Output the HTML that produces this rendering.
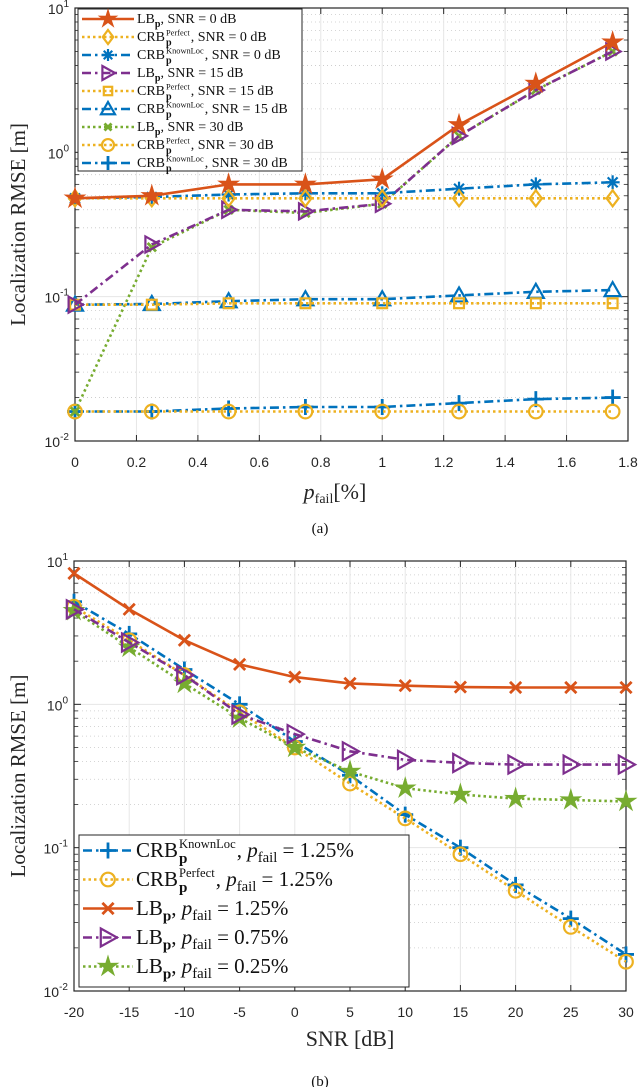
<!DOCTYPE html>
<html><head><meta charset="utf-8"><style>
body{margin:0;background:#fff;width:640px;height:1087px;overflow:hidden}
svg{display:block;font-family:"Liberation Sans",sans-serif}
text{white-space:pre}
.serif{font-family:"Liberation Serif",serif}
</style></head><body>
<svg id="s" width="640" height="1087"></svg>
<script>
// ---- Chart (a) data ----
const aX=[0,0.25,0.5,0.75,1,1.25,1.5,1.75];
const aLB0=[0.48,0.5,0.6,0.6,0.65,1.55,3.0,5.8];
const aPerf0=[0.48,0.48,0.48,0.48,0.48,0.48,0.48,0.48];
const aKnown0=[0.48,0.49,0.51,0.52,0.52,0.56,0.6,0.62];
const aLB15=[0.088,0.23,0.4,0.39,0.44,1.3,2.7,5.0];
const aPerf15=[0.088,0.088,0.09,0.09,0.09,0.09,0.09,0.09];
const aKnown15=[0.088,0.089,0.093,0.096,0.096,0.102,0.108,0.111];
const aLB30=[0.016,0.22,0.4,0.38,0.44,1.3,2.7,5.0];
const aPerf30=[0.016,0.016,0.016,0.016,0.016,0.016,0.016,0.016];
const aKnown30=[0.016,0.016,0.0168,0.0172,0.0172,0.0183,0.0195,0.02];
const aXTicks=[0,0.2,0.4,0.6,0.8,1,1.2,1.4,1.6,1.8];
const aXTickLabels=["0","0.2","0.4","0.6","0.8","1","1.2","1.4","1.6","1.8"];
// ---- Chart (b) data ----
const bX=[-20,-15,-10,-5,0,5,10,15,20,25,30];
const bLB125=[8.2,4.6,2.8,1.9,1.55,1.4,1.35,1.32,1.31,1.31,1.31];
const bLB075=[4.6,2.7,1.6,0.85,0.62,0.47,0.41,0.39,0.38,0.38,0.38];
const bLB025=[4.5,2.5,1.4,0.8,0.5,0.34,0.26,0.235,0.22,0.215,0.21];
const bKnown=[5.2,3.1,1.75,1.0,0.55,0.32,0.17,0.1,0.055,0.032,0.018];
const bPerf=[4.8,2.8,1.6,0.88,0.5,0.28,0.16,0.09,0.05,0.028,0.016];
const bXTicks=[-20,-15,-10,-5,0,5,10,15,20,25,30];
const yDecades=[-2,-1,0,1];

const NS="http://www.w3.org/2000/svg";
const S=document.getElementById('s');
const C={o:"#D95319",y:"#EDB120",b:"#0072BD",p:"#7E2F8E",g:"#77AC30"};
const DASH={solid:"",dot:"2.5,3",dash:"9,5",dashdot:"9,4,2.5,4"};
function mk(t,a,p){const e=document.createElementNS(NS,t);for(const k in a)e.setAttribute(k,a[k]);(p||S).appendChild(e);return e;}
function txt(x,y,s,a,p){const e=mk('text',Object.assign({x:x,y:y},a),p);e.innerHTML=s;return e;}

function marker(g,type,x,y,col,r){
  const sw=2.2;
  if(type==='star'){let pts=[];for(let i=0;i<10;i++){const rr=i%2?r*0.42:r*1.15;const a=-Math.PI/2+i*Math.PI/5;pts.push((x+rr*Math.cos(a)).toFixed(1)+','+(y+rr*Math.sin(a)).toFixed(1));}
    mk('polygon',{points:pts.join(' '),fill:col,stroke:col,'stroke-width':1},g);}
  else if(type==='diamond') mk('polygon',{points:`${x},${y-r} ${x+r*0.75},${y} ${x},${y+r} ${x-r*0.75},${y}`,fill:'none',stroke:col,'stroke-width':sw},g);
  else if(type==='asterisk'){for(let i=0;i<4;i++){const a=i*Math.PI/4;mk('line',{x1:x-r*Math.cos(a),y1:y-r*Math.sin(a),x2:x+r*Math.cos(a),y2:y+r*Math.sin(a),stroke:col,'stroke-width':sw},g);}}
  else if(type==='tri-right') mk('polygon',{points:`${x-r*0.8},${y-r} ${x+r},${y} ${x-r*0.8},${y+r}`,fill:'none',stroke:col,'stroke-width':sw},g);
  else if(type==='square') mk('rect',{x:x-r*0.7,y:y-r*0.7,width:r*1.4,height:r*1.4,fill:'none',stroke:col,'stroke-width':sw},g);
  else if(type==='tri-up') mk('polygon',{points:`${x},${y-r} ${x+r},${y+r*0.75} ${x-r},${y+r*0.75}`,fill:'none',stroke:col,'stroke-width':sw},g);
  else if(type==='x'){const d=r*0.7;mk('line',{x1:x-d,y1:y-d,x2:x+d,y2:y+d,stroke:col,'stroke-width':2.8},g);mk('line',{x1:x-d,y1:y+d,x2:x+d,y2:y-d,stroke:col,'stroke-width':2.8},g);}
  else if(type==='circle') mk('circle',{cx:x,cy:y,r:r*0.85,fill:'none',stroke:col,'stroke-width':sw},g);
  else if(type==='plus'){mk('line',{x1:x-r,y1:y,x2:x+r,y2:y,stroke:col,'stroke-width':2.8},g);mk('line',{x1:x,y1:y-r,x2:x,y2:y+r,stroke:col,'stroke-width':2.8},g);}
}

function rich(g,x,y,parts,fs){
  let cx=x;
  const put=(t,px,py,size,extra)=>{const e=mk('text',Object.assign({x:px,y:py,class:'serif','font-size':size,fill:'#111'},extra||{}),g);e.textContent=t;return e.getComputedTextLength();};
  parts.forEach(p=>{
    if(p[0]==='n') cx+=put(p[1],cx,y,fs);
    else if(p[0]==='i') cx+=put(p[1],cx,y,fs,{'font-style':'italic'});
    else if(p[0]==='sub') cx+=put(p[1],cx,y+fs*0.25,fs*0.7);
    else if(p[0]==='bsub') cx+=put(p[1],cx,y+fs*0.28,fs*0.72,{'font-weight':'bold'});
    else if(p[0]==='ss'){const w1=put(p[1],cx+1,y-fs*0.42,fs*0.6);const w2=put('p',cx+1,y+fs*0.3,fs*0.72,{'font-weight':'bold'});cx+=Math.max(w1,w2)+2;}
  });
}

function axes(name,L,R,T,B,xmin,xmax,xt,xtl){
  const sx=v=>L+(v-xmin)/(xmax-xmin)*(R-L);
  const sy=v=>B-(Math.log10(v)+2)/3*(B-T);
  const g=mk('g',{});
  for(let d=-2;d<1;d++)for(let m=2;m<10;m++){const y=sy(m*Math.pow(10,d));mk('line',{x1:L,x2:R,y1:y,y2:y,stroke:'#c8c8c8','stroke-width':0.8,'stroke-dasharray':'1,3'},g);
    mk('line',{x1:L,x2:L+4,y1:y,y2:y,stroke:'#262626','stroke-width':0.8},g);mk('line',{x1:R,x2:R-4,y1:y,y2:y,stroke:'#262626','stroke-width':0.8},g);}
  xt.forEach((v,i)=>{const x=sx(v);mk('line',{x1:x,x2:x,y1:T,y2:B,stroke:'#e6e6e6','stroke-width':1},g);
    mk('line',{x1:x,x2:x,y1:B,y2:B-6,stroke:'#262626','stroke-width':1},g);mk('line',{x1:x,x2:x,y1:T,y2:T+6,stroke:'#262626','stroke-width':1},g);
    txt(x,B+26,xtl[i],{'text-anchor':'middle','font-size':14,fill:'#262626',},g);});
  yDecades.forEach(d=>{const y=sy(Math.pow(10,d));mk('line',{x1:L,x2:R,y1:y,y2:y,stroke:'#e6e6e6','stroke-width':1},g);
    mk('line',{x1:L,x2:L+7,y1:y,y2:y,stroke:'#262626'},g);mk('line',{x1:R,x2:R-7,y1:y,y2:y,stroke:'#262626'},g);
    txt(L-6,y+6,'10<tspan dy="-7" font-size="10">'+d+'</tspan>',{'text-anchor':'end','font-size':14,fill:'#262626',},g);});
  mk('rect',{x:L,y:T,width:R-L,height:B-T,fill:'none',stroke:'#262626','stroke-width':1.2},g);
  txt(0,0,'Localization RMSE [m]',{class:'serif','font-size':21,fill:'#262626','text-anchor':'middle',transform:`translate(25,${(T+B)/2}) rotate(-90)`,},g);
  return {sx,sy};
}
function series(ax,name,xs,ys,col,dash,mt,r){
  const g=mk('g',{});
  const pts=xs.map((x,i)=>ax.sx(x).toFixed(1)+','+ax.sy(ys[i]).toFixed(1)).join(' ');
  mk('polyline',{points:pts,fill:'none',stroke:col,'stroke-width':2.6,'stroke-dasharray':DASH[dash]},g);
  xs.forEach((x,i)=>marker(g,mt,ax.sx(x),ax.sy(ys[i]),col,r));
}
function legend(name,x,y,w,h,items,rowH,fs,lineW){
  const g=mk('g',{});
  mk('rect',{x:x,y:y,width:w,height:h,fill:'#fff',stroke:'#262626','stroke-width':1},g);
  items.forEach((it,i)=>{const cy=y+rowH*(i+0.5)+1;
    const e=mk('g',{},g);
    mk('line',{x1:x+4,x2:x+4+lineW,y1:cy,y2:cy,stroke:it[1],'stroke-width':2.6,'stroke-dasharray':DASH[it[2]]},e);
    marker(e,it[3],x+4+lineW/2,cy,it[1],it[4]);
    rich(e,x+7+lineW,cy+fs*0.3,it[0],fs);});
}

// ----- Chart (a) -----
const A=axes('chart-a',75,628,8,441,0,1.8,aXTicks,aXTickLabels);
series(A,'crb-known-snr30',aX,aKnown30,C.b,'dashdot','plus',8);
series(A,'crb-perfect-snr30',aX,aPerf30,C.y,'dot','circle',8);
series(A,'lb-snr30',aX,aLB30,C.g,'dot','x',6);
series(A,'crb-known-snr15',aX,aKnown15,C.b,'dashdot','tri-up',8);
series(A,'crb-perfect-snr15',aX,aPerf15,C.y,'dot','square',7);
series(A,'lb-snr15',aX,aLB15,C.p,'dashdot','tri-right',8);
series(A,'crb-known-snr0',aX,aKnown0,C.b,'dashdot','asterisk',7);
series(A,'crb-perfect-snr0',aX,aPerf0,C.y,'dot','diamond',8);
series(A,'lb-snr0',aX,aLB0,C.o,'solid','star',9);
const LBa=s=>[['n','LB'],['bsub','p'],['n',', SNR = '+s+' dB']];
const CRBa=(k,s)=>[['n','CRB'],['ss',k],['n',', SNR = '+s+' dB']];
legend('legend-a',78,9,224,162,[
 [LBa('0'),C.o,'solid','star',8],
 [CRBa('Perfect','0'),C.y,'dot','diamond',7],
 [CRBa('KnownLoc','0'),C.b,'dashdot','asterisk',6],
 [LBa('15'),C.p,'dashdot','tri-right',7],
 [CRBa('Perfect','15'),C.y,'dot','square',6],
 [CRBa('KnownLoc','15'),C.b,'dashdot','tri-up',7],
 [LBa('30'),C.g,'dot','x',5],
 [CRBa('Perfect','30'),C.y,'dot','circle',7],
 [CRBa('KnownLoc','30'),C.b,'dashdot','plus',7]
],18,14,52);
txt(335,499,'<tspan font-style="italic">p</tspan><tspan font-size="14" dy="4">fail</tspan><tspan dy="-4">[%]</tspan>',{class:'serif','font-size':22,'text-anchor':'middle',fill:'#262626',});
txt(320,533,'(a)',{class:'serif','font-size':15,'text-anchor':'middle',fill:'#111',});

// ----- Chart (b) -----
const B=axes('chart-b',74,626,561,991,-20,30,bXTicks,bXTicks.map(String));
series(B,'crb-known-b',bX,bKnown,C.b,'dashdot','plus',8);
series(B,'crb-perfect-b',bX,bPerf,C.y,'dot','circle',8);
series(B,'lb-pfail-025',bX,bLB025,C.g,'dot','star',9);
series(B,'lb-pfail-075',bX,bLB075,C.p,'dashdot','tri-right',9);
series(B,'lb-pfail-125',bX,bLB125,C.o,'solid','x',8);
const pf=v=>[['n',', '],['i','p'],['sub','fail'],['n',' = '+v+'%']];
legend('legend-b',79,835,330,152,[
 [[['n','CRB'],['ss','KnownLoc']].concat(pf('1.25')),C.b,'dashdot','plus',8],
 [[['n','CRB'],['ss','Perfect']].concat(pf('1.25')),C.y,'dot','circle',8],
 [[['n','LB'],['bsub','p']].concat(pf('1.25')),C.o,'solid','x',8],
 [[['n','LB'],['bsub','p']].concat(pf('0.75')),C.p,'dashdot','tri-right',9],
 [[['n','LB'],['bsub','p']].concat(pf('0.25')),C.g,'dot','star',9]
],29,21,50);
txt(350,1046,'SNR [dB]',{class:'serif','font-size':22,'text-anchor':'middle',fill:'#262626',});
txt(320,1086,'(b)',{class:'serif','font-size':15,'text-anchor':'middle',fill:'#111',});
</script>
</body></html>
